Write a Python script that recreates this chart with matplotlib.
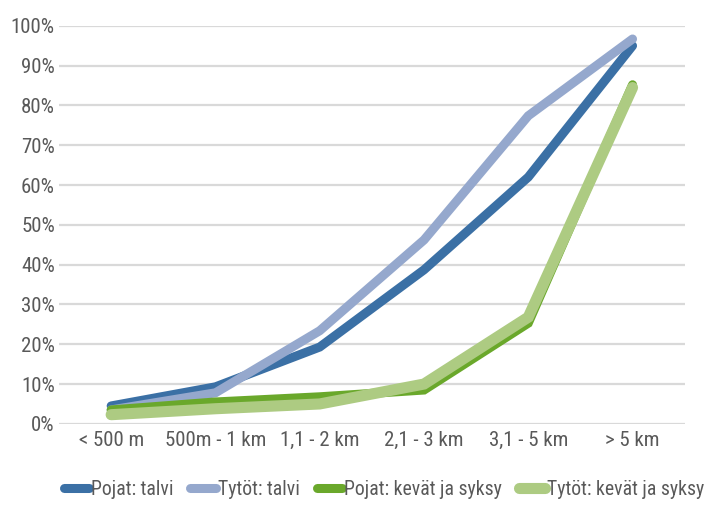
import matplotlib
matplotlib.use("Agg")
from matplotlib import pyplot as plt
from matplotlib.ticker import PercentFormatter

categories = ["< 500 m", "500m - 1 km", "1,1 - 2 km", "2,1 - 3 km", "3,1 - 5 km", "> 5 km"]

pojat_talvi = [4.5, 9.3, 19.3, 38.7, 62.0, 95.0]
tytot_talvi = [3.5, 7.8, 23.4, 46.2, 77.4, 96.7]
pojat_kevat = [3.5, 5.5, 6.8, 8.5, 25.3, 85.2]
tytot_kevat = [2.3, 3.8, 5.0, 10.0, 26.8, 84.5]

series = [
    ("Pojat: talvi", pojat_talvi, "#3b70a5", 6.5),
    ("Tytöt: talvi", tytot_talvi, "#95a8cd", 6.5),
    ("Pojat: kevät ja syksy", pojat_kevat, "#6aa82b", 6.5),
    ("Tytöt: kevät ja syksy", tytot_kevat, "#adcb82", 8.0),
]

plt.rcParams["font.family"] = ["Roboto Condensed", "DejaVu Sans"]
TEXT = "#595959"

fig = plt.figure(figsize=(7.11, 5.07), dpi=100)
ax = fig.add_axes([0.083, 0.164, 0.88, 0.785])

x = list(range(len(categories)))
for label, vals, color, lw in series:
    ax.plot(x, vals, color=color, linewidth=lw, label=label,
            solid_capstyle="round", solid_joinstyle="miter")

ax.set_xlim(-0.5, len(categories) - 0.5)
ax.set_ylim(0, 100)
ax.set_yticks(range(0, 101, 10))
ax.yaxis.set_major_formatter(PercentFormatter(decimals=0))
ax.set_xticks(x)
ax.set_xticklabels(categories)
ax.grid(axis="y", color="#d9d9d9", linewidth=1.6)
ax.set_axisbelow(True)
for s in ax.spines.values():
    s.set_visible(False)
ax.tick_params(axis="both", length=0, labelsize=15, colors=TEXT)
ax.tick_params(axis="x", pad=5)
ax.tick_params(axis="y", pad=3)

fig.legend(loc="lower left", bbox_to_anchor=(0.07, -0.012), ncol=4, frameon=False,
           fontsize=14.2, labelcolor=TEXT, handlelength=1.3, handletextpad=0.1,
           columnspacing=0.85, borderaxespad=0.3)

fig.savefig("out.png", dpi=100)
